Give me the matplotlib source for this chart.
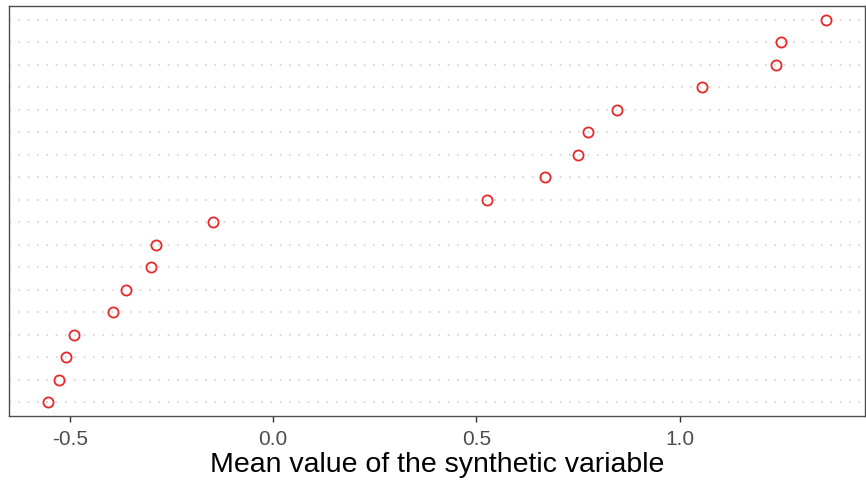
import matplotlib
matplotlib.use("Agg")
import matplotlib.pyplot as plt

plt.rcParams['font.family'] = ['Liberation Sans', 'DejaVu Sans']

# one value per (unlabelled) category, bottom to top
categories = list(range(1, 19))
mean_values = [-0.554, -0.527, -0.510, -0.490, -0.395, -0.363, -0.301, -0.289, -0.147,
               0.525, 0.669, 0.750, 0.775, 0.846, 1.056, 1.238, 1.250, 1.360]

W, H = 866, 486
fig = plt.figure(figsize=(W / 100, H / 100), dpi=100)
ax = fig.add_axes([9 / W, (H - 416) / H, (865 - 9) / W, (416 - 6) / H])

# dotted horizontal grid at every category
for c in categories:
    ax.axhline(c, color='#d2d2d2', lw=1.2, linestyle=(0, (1, 4.6)), zorder=0)

ax.plot(mean_values, categories, linestyle='none', marker='o', ms=7.3,
        mfc='none', mec='#e8282b', mew=1.3, zorder=3)

rng = max(mean_values) - min(mean_values)
ax.set_xlim(min(mean_values) - 0.05 * rng, max(mean_values) + 0.05 * rng)
ax.set_ylim(0.4, 18.6)

ax.set_xticks([-0.5, 0.0, 0.5, 1.0])
ax.set_xticklabels(['-0.5', '0.0', '0.5', '1.0'])
ax.set_yticks([])
ax.tick_params(axis='x', length=4, width=1, color='#333333',
               labelsize=15, labelcolor='#4d4d4d', pad=6)

for s in ax.spines.values():
    s.set_color('#4d4d4d')
    s.set_linewidth(1.0)

ax.set_xlabel("Mean value of the synthetic variable", fontsize=20.5, color='black', labelpad=2)

fig.savefig("out.png", dpi=100)
